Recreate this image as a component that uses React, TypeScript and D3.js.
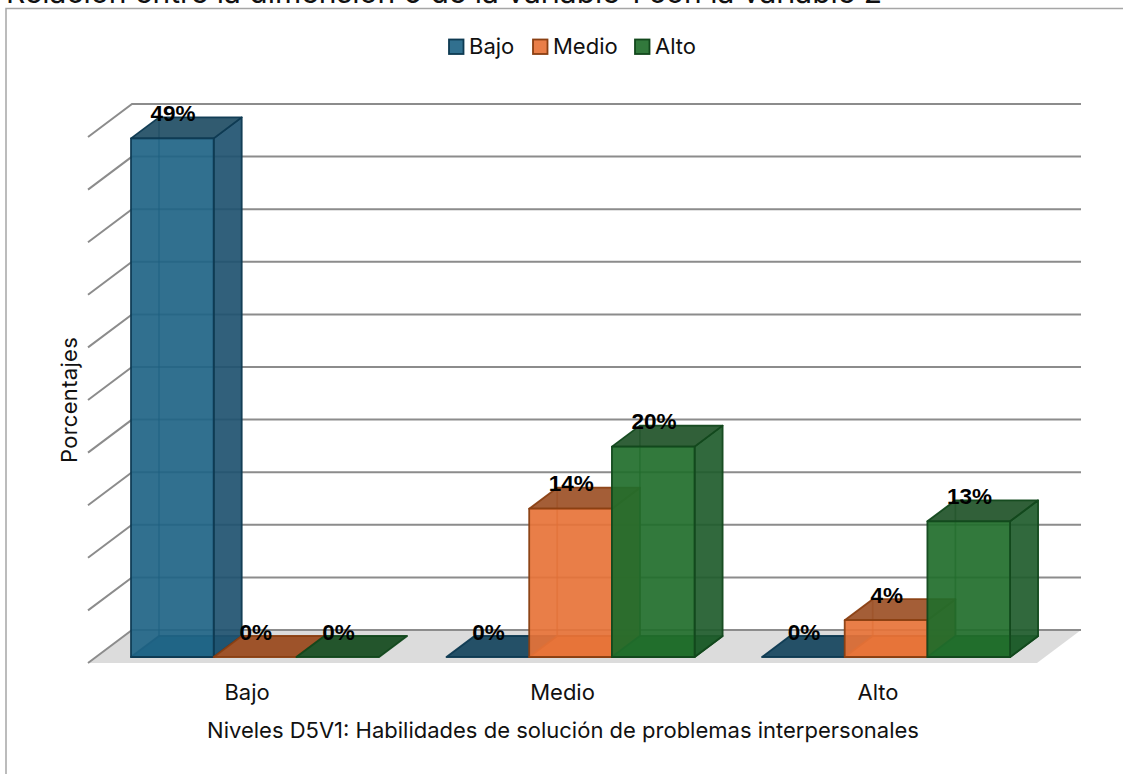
import React from "react";
import * as d3 from "d3";

const categories = ["Bajo", "Medio", "Alto"];
const seriesNames = ["Bajo", "Medio", "Alto"];
const bajoValues = [49.3, 0, 0];
const medioValues = [0, 14.1, 3.5];
const altoValues = [0, 20, 12.9];
const labelBajo = ["49%", "0%", "0%"];
const labelMedio = ["0%", "14%", "4%"];
const labelAlto = ["0%", "20%", "13%"];
const gridTicks = d3.range(0, 55, 5);
const title = "Relación entre la dimensión 5 de la variable 1 con la variable 2";
const xTitle = "Niveles D5V1: Habilidades de solución de problemas interpersonales";
const yTitle = "Porcentajes";

const FONT = "Inter, 'Open Sans', sans-serif";
const colors = ["#1f6486", "#e77338", "#216e2b"];
const strokes = ["#0e3a52", "#8a3f12", "#12481c"];
const tops = ["#204d64", "#9c5026", "#1f5228"];
const sides = ["#1f5270", "#a85a2e", "#1f5c2c"];

const y = d3.scaleLinear().domain([0, 50]).range([657, 131]);
const gridY = d3.scaleLinear().domain([0, 50]).range([630, 104]);
const x0 = d3.scaleBand().domain(categories).range([131, 1077.5]);
const barW = 82.7;
const dx = 28;
const dy = -21;
const series = [bajoValues, medioValues, altoValues];
const labels = [labelBajo, labelMedio, labelAlto];

export default function App() {
  return (
    <svg width={1123} height={774} style={{ position: "absolute", left: 0, top: 0, background: "#fff" }} fontFamily={FONT}>
      <text x={6} y={3} fontSize={30} fill="#111">{title}</text>
      <path d="M1123 8.5H6V774" fill="none" stroke="#a6a6a6" strokeWidth={1.5} />

      <path d="M88 663L132 630H1081L1037 663Z" fill="#dcdcdc" />
      {gridTicks.map((t) => (
        <path key={t} d={`M88 ${gridY(t) + 33}L132 ${gridY(t)}H1081`} fill="none" stroke="#8c8c8c" strokeWidth={2} />
      ))}

      {categories.map((c, ci) =>
        seriesNames.map((_, si) => {
          const v = series[si][ci];
          const left = x0(c)! + si * barW;
          const right = left + barW;
          const top = y(v);
          const base = y(0);
          return (
            <g key={`${ci}-${si}`} stroke={strokes[si]} strokeWidth={1.8} strokeOpacity={0.95} strokeLinejoin="round">
              <path d={`M${left} ${base}L${left + dx} ${base + dy}H${right + dx}L${right} ${base}Z`} fill={v === 0 ? tops[si] : colors[si]} fillOpacity={v === 0 ? 0.98 : 0.92} />
              {v > 0 && (
                <>
                  <path d={`M${left + dx} ${base + dy}V${top + dy}`} fill="none" strokeOpacity={0.6} />
                  <path d={`M${right} ${base}L${right + dx} ${base + dy}V${top + dy}L${right} ${top}Z`} fill={sides[si]} fillOpacity={0.92} />
                  <path d={`M${left} ${top}L${left + dx} ${top + dy}H${right + dx}L${right} ${top}Z`} fill={tops[si]} fillOpacity={0.92} />
                  <rect x={left} y={top} width={barW} height={base - top} fill={colors[si]} fillOpacity={0.92} />
                </>
              )}
            </g>
          );
        })
      )}

      {categories.map((c) =>
        seriesNames.map((_, si) => {
          const ci = categories.indexOf(c);
          const v = series[si][ci];
          const left = x0(c)! + si * barW;
          return (
            <text key={`l${ci}-${si}`} x={left + 42} y={y(v) + dy + 3.5} textAnchor="middle" fontSize={22.5} fontWeight={700} fontFamily="'Liberation Sans', Arial, sans-serif" fill="#000">
              {labels[si][ci]}
            </text>
          );
        })
      )}

      {categories.map((c) => (
        <text key={c} x={x0(c)! + 1.5 * barW - 8} y={700} textAnchor="middle" fontSize={22} fill="#111">{c}</text>
      ))}
      <text x={563} y={738} textAnchor="middle" fontSize={22} fill="#111">{xTitle}</text>
      <text transform="translate(77,400) rotate(-90)" textAnchor="middle" fontSize={22} letterSpacing={0.3} fill="#111">{yTitle}</text>

      {[{ x: 449, tx: 469 }, { x: 533, tx: 553 }, { x: 635, tx: 655 }].map((p, i) => (
        <g key={i}>
          <rect x={p.x} y={39.5} width={14.5} height={14.5} fill={colors[i]} fillOpacity={0.92} stroke={strokes[i]} strokeWidth={1.8} />
          <text x={p.tx} y={54} fontSize={22} fill="#111">{seriesNames[i]}</text>
        </g>
      ))}
    </svg>
  );
}
